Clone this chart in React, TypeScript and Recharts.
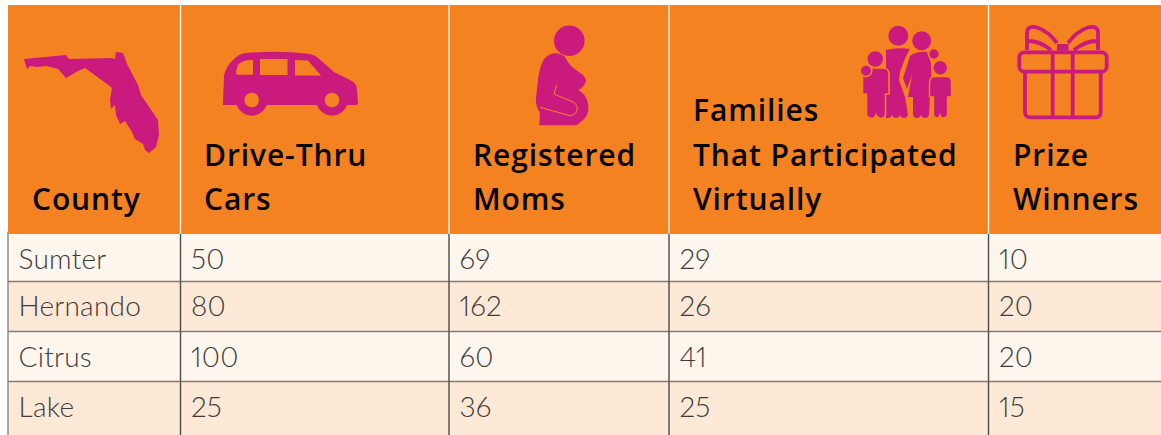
// @ts-nocheck
import React from 'react';
import { ScatterChart, Scatter, XAxis, YAxis } from 'recharts';

const counties = ['Sumter', 'Hernando', 'Citrus', 'Lake'];
const driveThruCars = [50, 80, 100, 25];
const registeredMoms = [69, 162, 60, 36];
const familiesVirtual = [29, 26, 41, 25];
const prizeWinners = [10, 20, 20, 15];

const headerLines = [
    ['County'],
    ['Drive-Thru', 'Cars'],
    ['Registered', 'Moms'],
    ['Families', 'That Participated', 'Virtually'],
    ['Prize', 'Winners'],
];

const W = 1161;
const H = 435;
const COL_STARTS = [8, 180.5, 449, 669, 988.5, W];
const ORANGE = '#F58220';
const PINK = '#CA1A7E';
const ROW_LIGHT = '#FFF6EE';
const ROW_DARK = '#FDE9D6';
const TEXT_X = [32, 204, 473, 693, 1013];
const ROW_BASELINE = [12, 9.5, 10.5, 10.5];
const BODY_FONT = 'Lato, sans-serif';
const HEAD_FONT = '"Open Sans", sans-serif';

const bodyColumns = [counties, driveThruCars, registeredMoms, familiesVirtual, prizeWinners];

const bodySeries = bodyColumns.map((values, col) =>
    values.map((value, row) => ({ col, x: COL_STARTS[col], row, value }))
);
const headerSeries = headerLines.map((lines, col) => [{ col, x: COL_STARTS[col], y: 0, lines }]);

const BodyCell = ({ cx, cy, payload }) => {
    const { col, row, value } = payload;
    const left = COL_STARTS[col];
    const right = COL_STARTS[col + 1];
    const top = cy - 25;
    const bottom = row === counties.length - 1 ? H : cy + 25;
    return (
        <g>
            <rect x={left} y={top} width={right - left} height={bottom - top} fill={row % 2 ? ROW_DARK : ROW_LIGHT} />
            {row > 0 && <line x1={left} x2={right} y1={top} y2={top} stroke="#857C75" strokeWidth={1.6} />}
            <line x1={left} x2={left} y1={top} y2={bottom} stroke={col === 0 ? '#8A8580' : '#4A4A4A'} strokeWidth={1.4} />
            <text
                x={left + 10.5}
                y={cy + ROW_BASELINE[row]}
                fontFamily={BODY_FONT}
                fontWeight={300}
                fontSize={28}
                letterSpacing={0.25}
                fill="#3C3C3C"
                style={{ fontVariantNumeric: 'proportional-nums' }}
            >
                {value}
            </text>
        </g>
    );
};

const FloridaIcon = () => (
    <path
        fill={PINK}
        d="M24 59L66 55L69 59L112 58L115 59L116 52L123 53L127 64L138 85L141 95L158 120L159 135L156 147L149 153L145 150L143 144L135 139L132 132L125 121L120 124L116 115L115 105L111 109L110 100L112 88L107 84L96 76L85 68L78 71L66 78L58 69L46 66L37 67L30 66L27 69Z"
    />
);

const VanIcon = () => (
    <g>
        <path
            fill={PINK}
            d="M223 103L224 75Q227 65 233 60Q238 54 246 53Q280 50 310 54Q315 55 318 58L334 72L352 81Q357 84 357 90L358 103Q358 105 355 105L223 105Z"
        />
        <path fill={ORANGE} d="M236 74Q236 70 238 65Q241 60 253 60L253 74.7L238 74.7Z" />
        <rect x={260} y={59} width={27.5} height={16} fill={ORANGE} />
        <path fill={ORANGE} d="M295 60L308 60.5L321 75.5L295 75.5Z" />
        <circle cx={251.7} cy={100} r={15.7} fill={PINK} />
        <circle cx={332} cy={100} r={15.7} fill={PINK} />
        <circle cx={251.7} cy={100} r={7.3} fill={ORANGE} />
        <circle cx={332} cy={100} r={7.3} fill={ORANGE} />
    </g>
);

const MomIcon = () => (
    <g>
        <circle cx={569.3} cy={40.7} r={15.3} fill={PINK} />
        <path
            fill={PINK}
            d="M539.3 125.3L540 113Q535 105 536 98L538.3 77Q541 62 545 58Q550 53 556 53.3Q562 54 565 57Q568 63 572 67L583 75Q587 80 585.7 82Q584 87 578.3 90Q585 94 587 100Q589 105 588.3 110Q587 117 583 120L576.7 125.3Z"
        />
        <path
            fill="none"
            stroke={ORANGE}
            strokeWidth={1}
            d="M556.7 85L554 94L573 102Q577 104 577.3 108Q577 115 570 115.7L540 107.3"
        />
    </g>
);

const FamilyIcon = () => (
    <g fill={PINK}>
        <circle cx={898.3} cy={35.7} r={10} />
        <circle cx={921.7} cy={40.7} r={9.5} />
        {/* father */}
        <path d="M886 50Q897 47 910 49L906 56L900 72L899 80L905 97L908 115Q907 118 904 118Q901 118 900 115Q899 118 896 118Q893 118 892 115Q891 118 889 118L886 118L886 70Z" />
        {/* mother */}
        <path d="M910 56Q917 51 927 52L931 63L932 97L930 97L929 115Q928 118 925 118Q922 118 921 115Q920 118 917 118Q914 118 913 115L913 97L908 97L912 75L907 89L903 78Z" />
        {/* left boy, orange ring keeps him apart from the father */}
        <g stroke={ORANGE} strokeWidth={1.6}>
            <circle cx={875.3} cy={59} r={8.6} />
            <path d="M869 68L882 68Q889 68 889 74L889 94L885.5 94L885.5 115Q884 118.5 881 118.5Q878 118.5 876 115Q875 118.5 872 118.5Q868 118.5 866.5 115L866.5 94L862.5 94L862.5 76Q863 68 869 68Z" />
            <circle cx={866} cy={70.7} r={5.8} />
        </g>
        {/* right child */}
        <g stroke={ORANGE} strokeWidth={1.4}>
            <circle cx={934} cy={54} r={5.4} />
            <circle cx={940.3} cy={67.7} r={7.4} />
            <path d="M934 76.5L947 76.5Q951.5 77 951.5 82L951.5 97L947.5 97L947.5 115Q946 118 943 118Q941 118 940 115Q939 118 937 118Q935 118 933.5 115L933.5 97L929.5 97L929.5 82Q930 77 934 76.5Z" />
        </g>
    </g>
);

const GiftIcon = () => (
    <g fill="none" stroke={PINK} strokeWidth={3.8} strokeLinejoin="round">
        <rect x={1019.3} y={52.3} width={87.4} height={19.4} rx={5} />
        <path d="M1025 71.7L1025 112Q1025 117.3 1030 117.3L1096 117.3Q1100.7 117.3 1100.7 112L1100.7 71.7" />
        <path d="M1052.7 52.3L1052.7 117M1072.7 52.3L1072.7 117" />
        <path d="M1057 43Q1048 31 1037 27.5Q1027 25 1027 33L1027 50M1028 41Q1040 41 1051 50" />
        <path d="M1068 43Q1077 31 1088 27.5Q1098 25 1098 33L1098 50M1097 41Q1085 41 1074 50" />
        <rect x={1057} y={44} width={11.5} height={6.7} fill={PINK} stroke="none" />
    </g>
);

const ICONS = [FloridaIcon, VanIcon, MomIcon, FamilyIcon, GiftIcon];

const HeaderCell = ({ payload }) => {
    const { col, lines } = payload;
    const left = COL_STARTS[col];
    const right = COL_STARTS[col + 1];
    const Icon = ICONS[col];
    return (
        <g>
            <rect x={left} y={5} width={right - left} height={229} fill={ORANGE} />
            {col > 0 && <line x1={left} x2={left} y1={5} y2={234} stroke="#FFF3E6" strokeWidth={1.4} />}
            <Icon />
            {lines.map((line, i) => (
                <text
                    key={line}
                    x={TEXT_X[col]}
                    y={210 - (lines.length - 1 - i) * 44.5}
                    fontFamily={HEAD_FONT}
                    fontWeight={600}
                    fontSize={30}
                    letterSpacing={0.9}
                    fill="#050505"
                >
                    {line}
                </text>
            ))}
        </g>
    );
};

const App: React.FC = () => {
    return (
        <div style={{ position: 'absolute', left: 0, top: 0, width: W, height: H, background: '#fff', overflow: 'hidden' }}>
            <div style={{ position: 'absolute', left: 0, top: 0 }}>
                <ScatterChart width={W} height={H} margin={{ top: 231.5, right: 0, bottom: 3.5, left: 0 }}>
                    <XAxis type="number" dataKey="x" domain={[0, W]} hide />
                    <YAxis type="number" dataKey="row" domain={[-0.5, 3.5]} reversed hide width={0} />
                    {bodySeries.map((data, i) => (
                        <Scatter key={i} data={data} shape={BodyCell} isAnimationActive={false} />
                    ))}
                </ScatterChart>
            </div>
            <div style={{ position: 'absolute', left: 0, top: 0 }}>
                <ScatterChart width={W} height={234} margin={{ top: 5, right: 0, bottom: 0, left: 0 }}>
                    <XAxis type="number" dataKey="x" domain={[0, W]} hide />
                    <YAxis type="number" dataKey="y" domain={[-0.5, 0.5]} hide width={0} />
                    {headerSeries.map((data, i) => (
                        <Scatter key={i} data={data} shape={HeaderCell} isAnimationActive={false} />
                    ))}
                </ScatterChart>
            </div>
        </div>
    );
};

export default App;
